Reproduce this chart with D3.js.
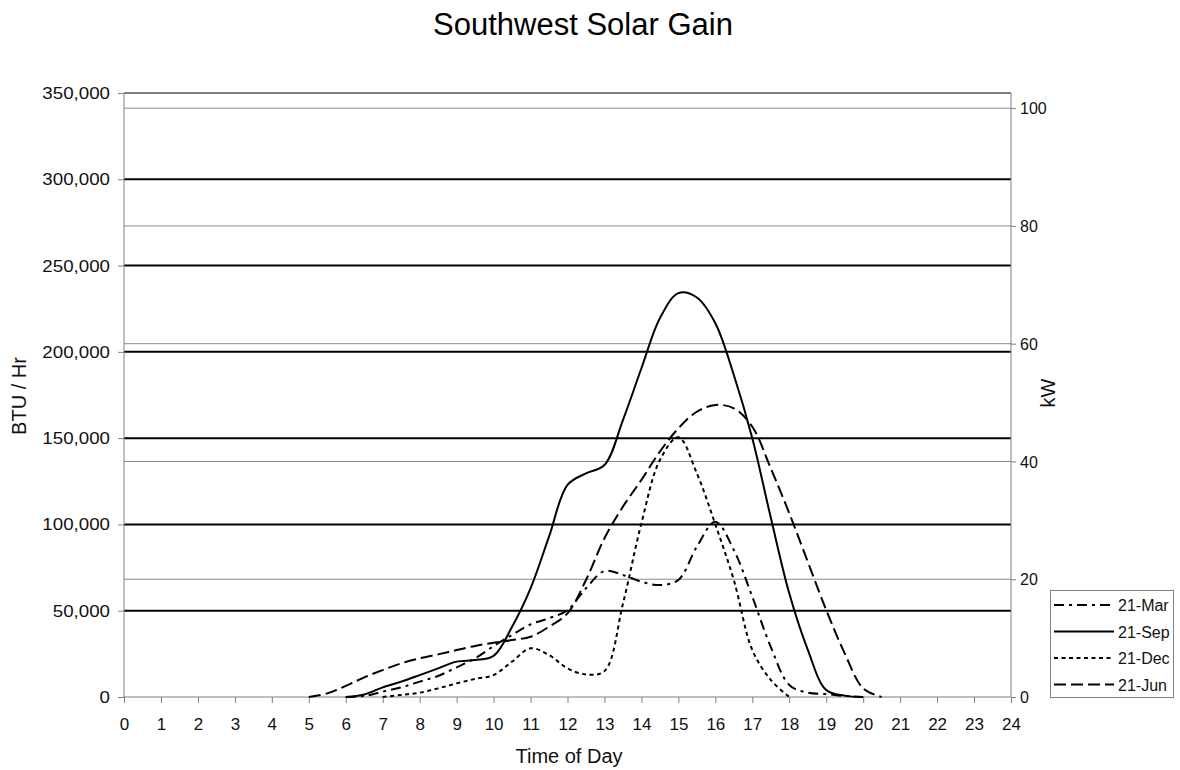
<!DOCTYPE html>
<html>
<head>
<meta charset="utf-8">
<script src="https://cdn.jsdelivr.net/npm/d3@7"></script>
<style>
  html, body { margin: 0; padding: 0; background: #fff; }
  svg { display: block; font-family: "Liberation Sans", Arial, sans-serif; }
</style>
</head>
<body>
<svg id="chart" width="1180" height="770"></svg>
<script>
// Hours of the day at which the solar gain was read (half-hour steps)
const hours = [5, 5.5, 6, 6.5, 7, 7.5, 8, 8.5, 9, 9.5, 10, 10.5, 11, 11.5, 12, 12.5,
               13, 13.5, 14, 14.5, 15, 15.5, 16, 16.5, 17, 17.5, 18, 18.5, 19, 19.5, 20, 20.5];

// Solar gain through the southwest glazing, BTU/hr (null = not drawn)
const mar21 = [null, null, 0, 600, 3100, 5600, 8900, 12200, 17200, 22400, 29500, 36000, 42100, 45600, 50400, 63000,
               73000, 70700, 66800, 64900, 67800, 87100, 101600, 85200, 58100, 29100, 7000, 2500, 1700, 600, 0, null];
const sep21 = [null, null, 0, 1500, 5600, 8900, 12700, 16600, 20500, 21400, 23800, 40700, 63000, 92900, 122900, 129600,
               134400, 160500, 190500, 219500, 234000, 231500, 216600, 186600, 150000, 104000, 60100, 27500, 4000, 800, 0, null];
const dec21 = [null, null, null, null, 0, 1200, 2500, 5000, 7900, 10500, 12700, 20500, 28200, 24300, 16600, 13100,
               15000, 54000, 100700, 137300, 150500, 129600, 100000, 67800, 27200, 9900, 0, null, null, null, null, null];
const jun21 = [0, 2100, 6400, 11400, 15600, 19500, 22400, 24700, 27200, 29600, 31400, 33000, 34900, 40700, 48500, 67800,
               92000, 110300, 125800, 142200, 155700, 165300, 169200, 167300, 156600, 132500, 106500, 78400, 50400, 25300, 5000, 0];

const seriesNames = ["21-Mar", "21-Sep", "21-Dec", "21-Jun"];
const seriesValues = [mar21, sep21, dec21, jun21];
const seriesDash = ["10,5,3,5", null, "4,3.5", "12,5"];

// Axis ticks
const hourTicks = d3.range(0, 25, 1);
const btuTicks = [0, 50000, 100000, 150000, 200000, 250000, 300000, 350000];
const kwTicks = [0, 20, 40, 60, 80, 100];
const BTU_PER_KW = 3412.14;

const svg = d3.select("#chart");
const plotLeft = 124, plotRight = 1011, plotTop = 93, plotBottom = 697;

const x = d3.scaleLinear().domain([0, 24]).range([plotLeft, plotRight]);
const y = d3.scaleLinear().domain([0, 350000]).range([plotBottom, plotTop]);
const yKw = d3.scaleLinear().domain([0, 350000 / BTU_PER_KW]).range([plotBottom, plotTop]);

// kW reference lines (thin grey)
svg.append("g").selectAll("line").data(kwTicks.filter(d => d > 0)).join("line")
  .attr("x1", plotLeft).attr("x2", plotRight)
  .attr("y1", d => yKw(d)).attr("y2", d => yKw(d))
  .attr("stroke", "#8a8a8a").attr("stroke-width", 1);

// BTU gridlines (heavy black)
svg.append("g").selectAll("line").data(btuTicks.filter(d => d > 0)).join("line")
  .attr("x1", plotLeft).attr("x2", plotRight)
  .attr("y1", d => y(d)).attr("y2", d => y(d))
  .attr("stroke", "#000").attr("stroke-width", d => d === 350000 ? 1.2 : 2);

// Left axis
const leftAxis = svg.append("g").attr("transform", `translate(${plotLeft},0)`)
  .call(d3.axisLeft(y).tickValues(btuTicks).tickSize(6).tickFormat(() => ""));
leftAxis.select(".domain").attr("stroke", "#808080").attr("d", `M0,${plotTop}V${plotBottom}`);
leftAxis.selectAll(".tick line").attr("stroke", "#808080");
svg.append("g").selectAll("text").data(btuTicks).join("text")
  .attr("transform", d => `translate(${plotLeft - 14},${y(d) + 6}) scale(1.17,1)`)
  .attr("text-anchor", "end").attr("font-size", 16).attr("fill", "#111")
  .text(d => d3.format(",")(d));

// Right axis (kW)
const rightAxis = svg.append("g").attr("transform", `translate(${plotRight},0)`)
  .call(d3.axisRight(yKw).tickValues(kwTicks).tickSize(5).tickFormat(d3.format("d")));
rightAxis.select(".domain").attr("stroke", "#808080").attr("d", `M0,${plotTop}V${plotBottom}`);
rightAxis.selectAll(".tick line").attr("stroke", "#808080");
rightAxis.selectAll(".tick text").attr("x", 9).attr("dy", "0.36em")
  .attr("font-size", 16).attr("fill", "#111")
  .attr("font-family", "'Liberation Sans', Arial, sans-serif");

// Bottom axis
const bottomAxis = svg.append("g").attr("transform", `translate(0,${plotBottom})`)
  .call(d3.axisBottom(x).tickValues(hourTicks).tickSize(6).tickFormat(d3.format("d")));
bottomAxis.select(".domain").attr("stroke", "#808080").attr("d", `M${plotLeft},0H${plotRight}`);
bottomAxis.selectAll(".tick line").attr("stroke", "#808080");
bottomAxis.selectAll(".tick text").attr("y", 21).attr("dy", "0.71em")
  .attr("font-size", 17).attr("fill", "#111")
  .attr("font-family", "'Liberation Sans', Arial, sans-serif");

// Curves (smoothed, clipped to the plot area)
svg.append("defs").append("clipPath").attr("id", "plot-clip")
  .append("rect").attr("x", plotLeft).attr("y", plotTop)
  .attr("width", plotRight - plotLeft).attr("height", plotBottom - plotTop + 1);

const line = d3.line()
  .defined(d => d.v !== null)
  .x(d => x(d.h))
  .y(d => y(d.v))
  .curve(d3.curveCatmullRom.alpha(0.5));

svg.append("g").attr("clip-path", "url(#plot-clip)")
  .selectAll("path").data(seriesValues).join("path")
  .attr("d", vals => line(hours.map((h, i) => ({ h, v: vals[i] }))))
  .attr("fill", "none").attr("stroke", "#000").attr("stroke-width", 2)
  .attr("stroke-dasharray", (d, i) => seriesDash[i]);

// Titles
svg.append("text").attr("x", 583).attr("y", 35).attr("text-anchor", "middle")
  .attr("font-size", 31).attr("fill", "#000").text("Southwest Solar Gain");
svg.append("text").attr("x", 569).attr("y", 763).attr("text-anchor", "middle")
  .attr("font-size", 20).attr("fill", "#111").text("Time of Day");
svg.append("text").attr("transform", "translate(26,396) rotate(-90)").attr("text-anchor", "middle")
  .attr("font-size", 20).attr("fill", "#111").text("BTU / Hr");
svg.append("text").attr("transform", "translate(1055,393) rotate(-90)").attr("text-anchor", "middle")
  .attr("font-size", 20).attr("fill", "#111").text("kW");

// Legend
const legend = svg.append("g").attr("transform", "translate(1050,590)");
legend.append("rect").attr("x", 0.5).attr("y", 0.5).attr("width", 123).attr("height", 107)
  .attr("fill", "#fff").attr("stroke", "#808080");
const entry = legend.selectAll("g.entry").data(seriesNames).join("g")
  .attr("class", "entry")
  .attr("transform", (d, i) => `translate(0,${15 + i * 26.5})`);
entry.append("line").attr("x1", 4).attr("x2", 64).attr("y1", 0).attr("y2", 0)
  .attr("stroke", "#000").attr("stroke-width", 2)
  .attr("stroke-dasharray", (d, i) => seriesDash[i]);
entry.append("text").attr("x", 68).attr("y", 6).attr("font-size", 16).attr("fill", "#111")
  .text(d => d);
</script>
</body>
</html>
